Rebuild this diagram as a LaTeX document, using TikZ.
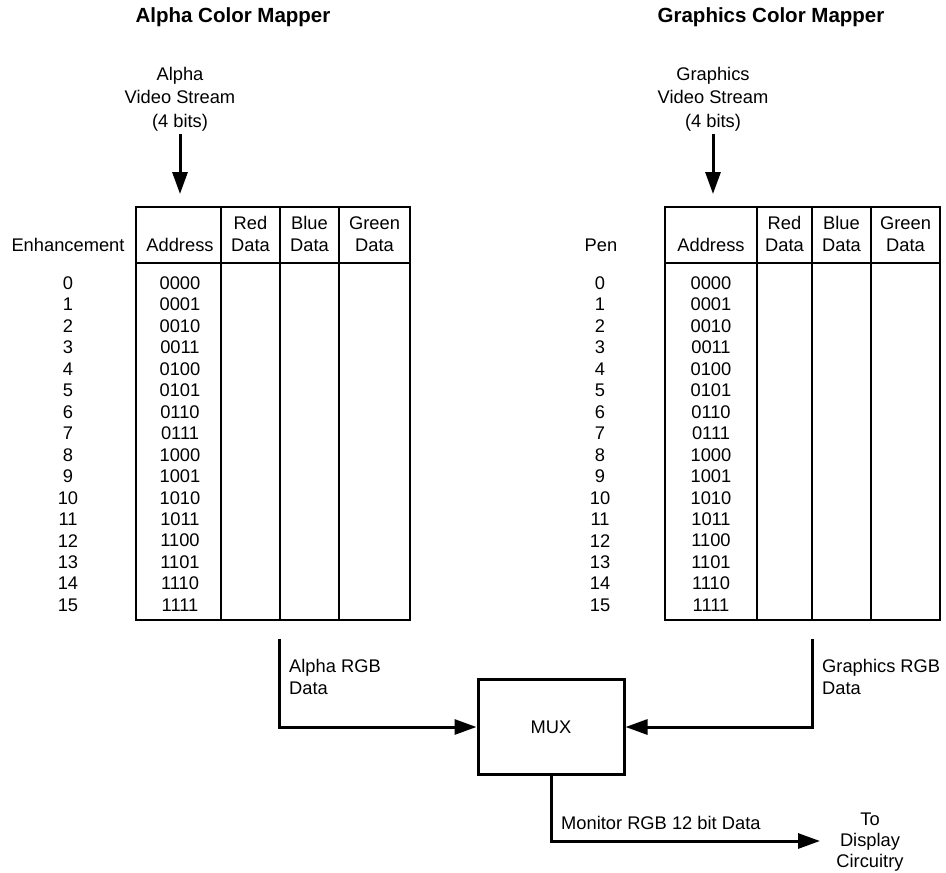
\documentclass[tikz,border=0pt]{standalone}
\usepackage{fontspec}
\setmainfont{Liberation Sans}
\usetikzlibrary{arrows.meta}
\begin{document}
\begin{tikzpicture}[x=1pt,y=-1pt,
  font=\fontsize{18.3}{22}\selectfont,
  txt/.style={inner sep=0pt, align=center},
  ttl/.style={inner sep=0pt, font=\fontsize{20.5}{22}\selectfont\bfseries},
  tbl/.style={line width=1.8pt},
  conn/.style={line width=3pt},
  tip/.style={-{Triangle[length=22pt,width=15pt]}},
  muxbox/.style={draw, line width=3pt, minimum width=146pt, minimum height=95pt, inner sep=0pt}]
\useasboundingbox (0,0) rectangle (946,873);

% titles
\node[ttl] (t1) at (233,17) {Alpha Color Mapper};
\node[ttl] (t2) at (771,17) {Graphics Color Mapper};

% video stream labels and arrows
\node[txt, font=\fontsize{18.3}{23.5}\selectfont] (avs) at (180,99) {Alpha\\Video Stream\\(4 bits)};
\node[txt, font=\fontsize{18.3}{23.5}\selectfont] (gvs) at (713,99) {Graphics\\Video Stream\\(4 bits)};
\coordinate (ain) at (180,194);
\coordinate (gin) at (713,194);
\draw[conn,tip] ([yshift=-3pt]avs.south) -- (ain);
\draw[conn,tip] ([yshift=-3pt]gvs.south) -- (gin);

% left table
\draw[tbl] (136,207) rectangle (410,620);
\draw[tbl] (136,263) -- (410,263);
\foreach \x in {221,280,339} \draw[tbl] (\x,207) -- (\x,620);
\node[txt] (aenh) at (68,245) {Enhancement};
\node[txt] (aadr) at (180,245) {Address};
\node[txt] (ared) at (250.5,234) {Red\\Data};
\node[txt] (ablue) at (309.5,234) {Blue\\Data};
\node[txt] (agreen) at (374.5,234) {Green\\Data};

% right table
\draw[tbl] (665,207) rectangle (940,620);
\draw[tbl] (665,263) -- (940,263);
\foreach \x in {757,812,871} \draw[tbl] (\x,207) -- (\x,620);
\node[txt] (gpen) at (601,245) {Pen};
\node[txt] (gadr) at (711,245) {Address};
\node[txt] (gred) at (784.5,234) {Red\\Data};
\node[txt] (gblue) at (841.5,234) {Blue\\Data};
\node[txt] (ggreen) at (905.5,234) {Green\\Data};

% rows
\foreach \b [count=\i from 0] in {0000,0001,0010,0011,0100,0101,0110,0111,1000,1001,1010,1011,1100,1101,1110,1111} {
  \node[txt] (an\i) at (68,283+\i*21.47) {\i};
  \node[txt] (aa\i) at (180,283+\i*21.47) {\b};
  \node[txt] (gn\i) at (600,283+\i*21.47) {\i};
  \node[txt] (ga\i) at (711,283+\i*21.47) {\b};
}

% MUX
\node[muxbox] (mux) at (551,727) {MUX};

\coordinate (argb) at (279,639);
\coordinate (grgb) at (812,639);
\coordinate (out) at (820,841);
\draw[conn,tip] (argb) |- (mux.west);
\draw[conn,tip] (grgb) |- (mux.east);
\draw[conn,tip] (mux.south) |- (out);

\node[txt, align=left, anchor=north west] (argbl) at (289,659) {Alpha RGB\\Data};
\node[txt, align=left, anchor=north west] (grgbl) at (822,659) {Graphics RGB\\Data};
\node[txt, anchor=west] (monl) at (561,823) {Monitor RGB 12 bit Data};
\node[txt, font=\fontsize{18.3}{21}\selectfont] (disp) at (870,842) {To\\Display\\Circuitry};
\end{tikzpicture}
\end{document}
